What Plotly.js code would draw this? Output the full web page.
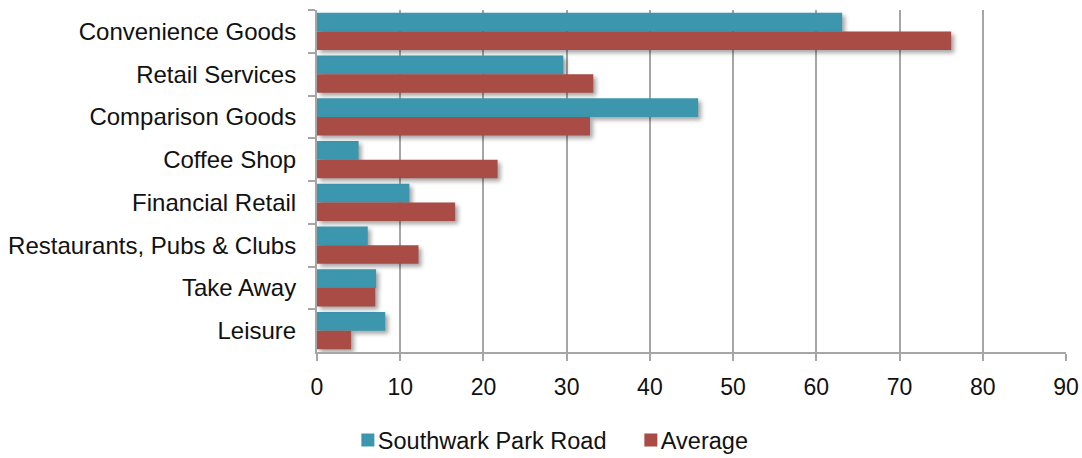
<!DOCTYPE html>
<html>
<head>
<meta charset="utf-8">
<script src="https://cdn.plot.ly/plotly-3.0.1.min.js"></script>
<style>
html,body{margin:0;padding:0;background:#fff;}
#chart{width:1082px;height:458px;}
</style>
</head>
<body>
<div id="chart"></div>
<script>
var categories = ["Convenience Goods","Retail Services","Comparison Goods","Coffee Shop","Financial Retail","Restaurants, Pubs & Clubs","Take Away","Leisure"];
var southwark = [63.1, 29.6, 45.8, 5.0, 11.1, 6.1, 7.1, 8.2];
var average = [76.2, 33.2, 32.8, 21.7, 16.6, 12.2, 7.0, 4.1];
var xTicks = [0,10,20,30,40,50,60,70,80,90];

var traces = [
  {type:'bar', orientation:'h', name:'Southwark Park Road', y:categories, x:southwark,
   marker:{color:'#3C97AE'}, hoverinfo:'x'},
  {type:'bar', orientation:'h', name:'Average', y:categories, x:average,
   marker:{color:'#A84C45'}, hoverinfo:'x'}
];

var layout = {
  width:1082, height:458,
  margin:{l:317, r:16, t:10, b:106, autoexpand:false},
  paper_bgcolor:'#fff', plot_bgcolor:'#fff',
  barmode:'group', bargap:0.13, bargroupgap:0,
  font:{family:'Liberation Sans, Arial, sans-serif', size:23.5, color:'#111'},
  showlegend:true,
  legend:{orientation:'h', xref:'container', yref:'container', x:0.3215, xanchor:'left', y:0.039, yanchor:'middle',
          font:{size:23.5, color:'#111'}, entrywidth:238, entrywidthmode:'pixels'},
  xaxis:{range:[0,90], tickvals:xTicks, ticktext:xTicks.map(String), showgrid:true, gridcolor:'#A6A6A6', gridwidth:2,
         zeroline:false, showline:true, linecolor:'#A6A6A6', linewidth:2,
         ticks:'outside', ticklen:7, tickcolor:'#A6A6A6', tickwidth:2, ticklabelstandoff:6,
         tickfont:{size:23}, fixedrange:true, automargin:false},
  yaxis:{type:'category', autorange:'reversed', showgrid:false, zeroline:false,
         showline:true, linecolor:'#A6A6A6', linewidth:2,
         ticks:'outside', tickson:'boundaries', ticklen:7, tickcolor:'#A6A6A6', tickwidth:2,
         ticklabelstandoff:14, tickfont:{size:24}, fixedrange:true, automargin:false}
};

Plotly.newPlot('chart', traces, layout, {displayModeBar:false, staticPlot:true}).then(function(){
  document.querySelectorAll('#chart .bars path').forEach(function(p){
    p.style.filter = 'drop-shadow(3px 3px 2px rgba(0,0,0,0.35))';
  });
  document.querySelectorAll('#chart .legend .legendtext').forEach(function(t){
    t.setAttribute('x', 30);
  });
  document.querySelectorAll('#chart .legend .legendpoints path').forEach(function(p){
    p.setAttribute('d', 'M6.5,6.5H-6.5V-6.5H6.5Z');
  });
});
</script>
</body>
</html>
